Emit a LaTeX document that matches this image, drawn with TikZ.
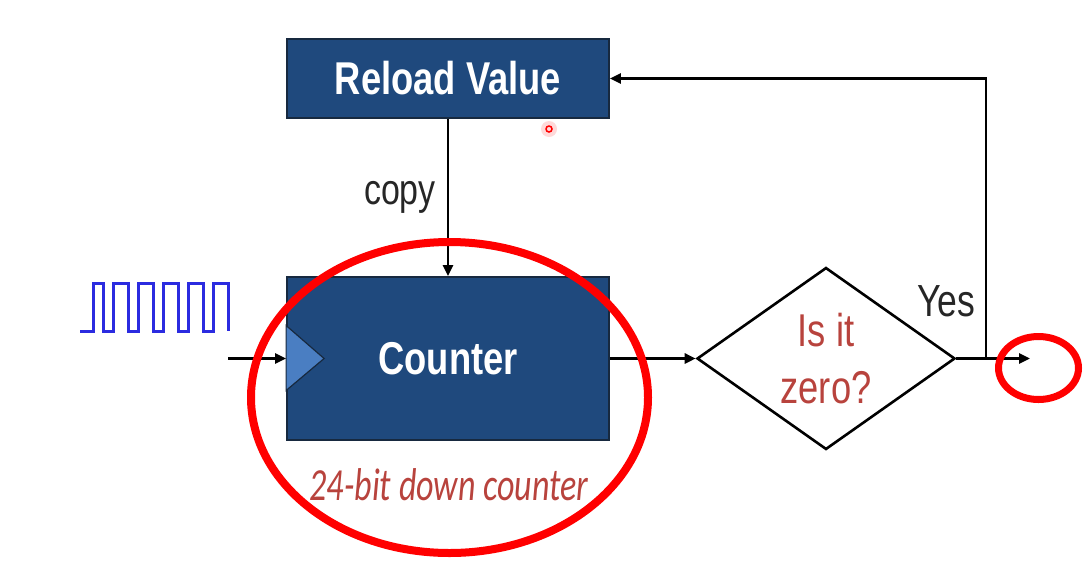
\documentclass[tikz,border=0pt]{standalone}
\usepackage{fontspec}
\setmainfont{Liberation Sans}
\newfontfamily\narrowsans[FakeStretch=0.79]{Liberation Sans}
\newfontfamily\narrowit[FakeStretch=0.74]{Carlito}
\usetikzlibrary{shapes.geometric,arrows.meta,calc}
\definecolor{boxblue}{HTML}{1F497D}
\definecolor{boxedge}{HTML}{17293F}
\definecolor{trianglue}{HTML}{4A7EC2}
\definecolor{txtred}{HTML}{B8433D}
\definecolor{clkblue}{HTML}{2B2BE0}
\tikzset{
  bluebox/.style={draw=boxedge, line width=1.8pt, fill=boxblue, text=white,
    font=\narrowsans\bfseries\fontsize{46}{55}\selectfont, inner sep=0pt},
  arr/.style={draw=black, line width=2.6pt, -{Triangle[length=11pt,width=10pt]}},
  lbl/.style={font=\narrowsans\fontsize{43}{52}\selectfont, text=black!85},
  redmark/.style={draw=red, line width=8pt},
}
\begin{document}
\begin{tikzpicture}[x=1pt,y=-1pt]
\useasboundingbox (0,0) rectangle (1089,574);
% boxes
\node[bluebox, minimum width=322pt, minimum height=79pt] (reload) at (448,78.5) {Reload Value};
\node[bluebox, minimum width=322pt, minimum height=163pt] (counter) at (448,358.5) {Counter};
\fill[trianglue, draw=boxedge, line width=1.2pt] ($(counter.west)+(0,-33)$) -- ($(counter.west)+(38,0)$) -- ($(counter.west)+(0,32)$) -- cycle;
% decision
\node[diamond, draw=black, line width=2.6pt, aspect=1.42, minimum width=258pt, minimum height=182pt, inner sep=0pt,
  align=center, text=txtred, font=\narrowsans\fontsize{46}{57}\selectfont] (dec) at (826,358.5) {Is it\\zero?};
% clock waveform
\draw[clkblue, line width=3pt, line join=miter]
  (80,331) -- (93,331) -- (93,283) -- (103,283) -- (103,331)
  -- (113,331) -- (113,283) -- (128,283) -- (128,331)
  -- (138,331) -- (138,283) -- (153,283) -- (153,331)
  -- (163,331) -- (163,283) -- (178,283) -- (178,331)
  -- (188,331) -- (188,283) -- (203,283) -- (203,331)
  -- (213,331) -- (213,283) -- (228,283) -- (228,331);
% connectors
\coordinate (clkin) at (228,358.5);
\coordinate (outend) at (1030,358.5);
\coordinate (junc) at (986,358.5);
\draw[arr] (clkin) -- (counter.west);
\draw[arr] (reload.south) -- (counter.north);
\draw[arr] (counter.east) -- (dec.west);
\draw[arr] (dec.east) -- (outend);
\draw[arr] (junc) |- (reload.east);
% labels
\node[lbl] (copy) at (400,197) {copy};
\node[lbl, font=\narrowsans\fontsize{45}{54}\selectfont] (yes) at (946,301) {Yes};
\node[text=txtred, font=\narrowit\itshape\fontsize{46}{54}\selectfont] (desc) at (449,485) {24-bit down counter};
% red annotations
\draw[redmark] (449.5,397.5) ellipse [x radius=198.5, y radius=155.5];
\draw[redmark, line width=7pt] (1038.5,368) ellipse [x radius=40, y radius=31.5];
\fill[red!25, opacity=0.6] (549,129) circle [radius=8];
\draw[red, line width=1.5pt] (549,129) circle [radius=3];
\end{tikzpicture}
\end{document}
